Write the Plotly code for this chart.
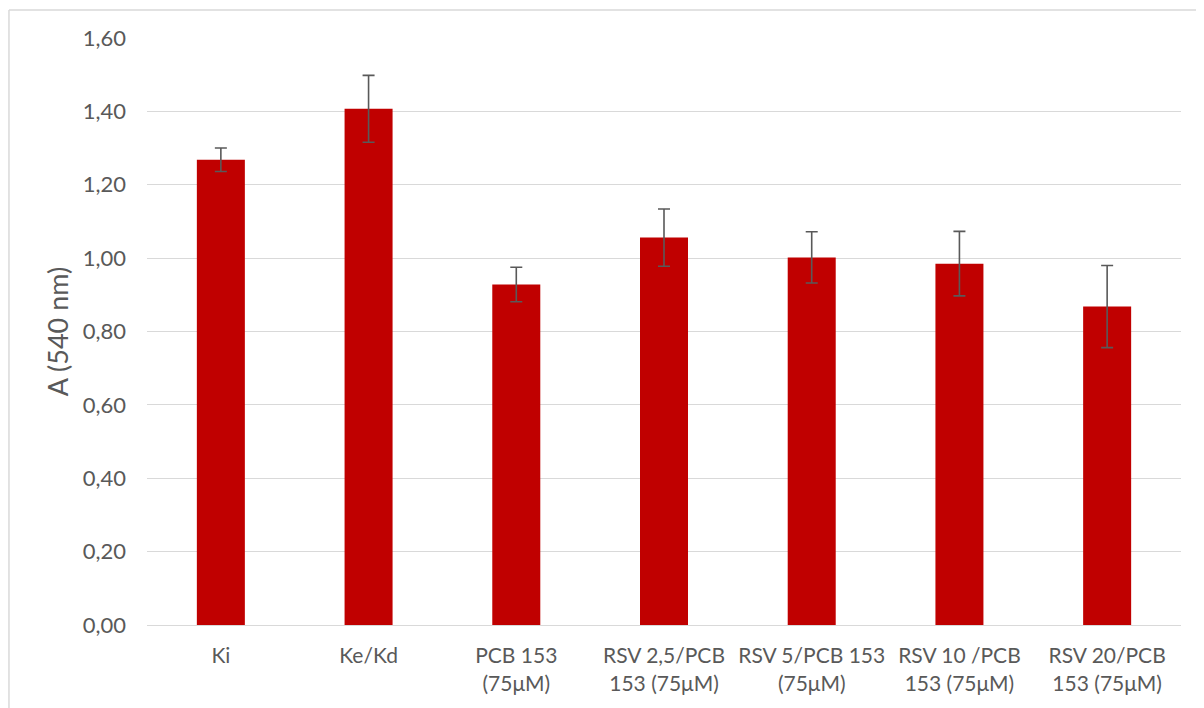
import plotly.graph_objects as go

categorias = ["Ki", "Ke/Kd", "PCB 153<br>(75μM)", "RSV 2,5/PCB<br>153 (75μM)",
              "RSV 5/PCB 153<br>(75μM)", "RSV 10 /PCB<br>153 (75μM)", "RSV 20/PCB<br>153 (75μM)"]
absorbancia = [1.268, 1.407, 0.928, 1.056, 1.002, 0.985, 0.868]
desviacion = [0.032, 0.091, 0.047, 0.078, 0.070, 0.088, 0.112]
marcas_y = [0, 0.2, 0.4, 0.6, 0.8, 1.0, 1.2, 1.4, 1.6]

gris = "#595959"
fuente = "Lato"

fig = go.Figure()
fig.add_trace(go.Bar(
    x=categorias,
    y=absorbancia,
    marker=dict(color="#c00000", line=dict(width=0)),
    error_y=dict(type="data", array=desviacion, visible=True,
                 color=gris, thickness=1.6, width=6),
    width=0.325,
))

# la pagina tiene 8 px de margen en el body, por eso 1196x700
fig.update_layout(
    width=1196, height=700,
    margin=dict(l=139, r=23, t=30, b=83),
    paper_bgcolor="white", plot_bgcolor="white",
    separators=",.",
    showlegend=False,
    font=dict(family=fuente, size=22, color=gris),
    shapes=[
        dict(type="line", xref="paper", yref="paper", x0=-0.1335, x1=-0.1335,
             y0=-0.2, y1=1.0477, line=dict(color="#d9d9d9", width=1.5)),
        dict(type="line", xref="paper", yref="paper", x0=-0.1335, x1=1.1,
             y0=1.0477, y1=1.0477, line=dict(color="#d9d9d9", width=1.5)),
    ],
)

fig.update_yaxes(
    range=[0, 1.6], tickvals=marcas_y, tickformat=".2f",
    showgrid=True, gridcolor="#d9d9d9", gridwidth=1.3,
    zeroline=False, showline=False,
    ticks="", ticklabelstandoff=20,
    title=dict(text="A (540 nm)", font=dict(size=27, color=gris), standoff=6),
)
fig.update_xaxes(
    showline=True, linecolor="#d9d9d9", linewidth=1.3,
    ticks="", ticklabelstandoff=12, tickangle=0,
    tickfont=dict(size=21),
)

fig.write_html("out.html")
